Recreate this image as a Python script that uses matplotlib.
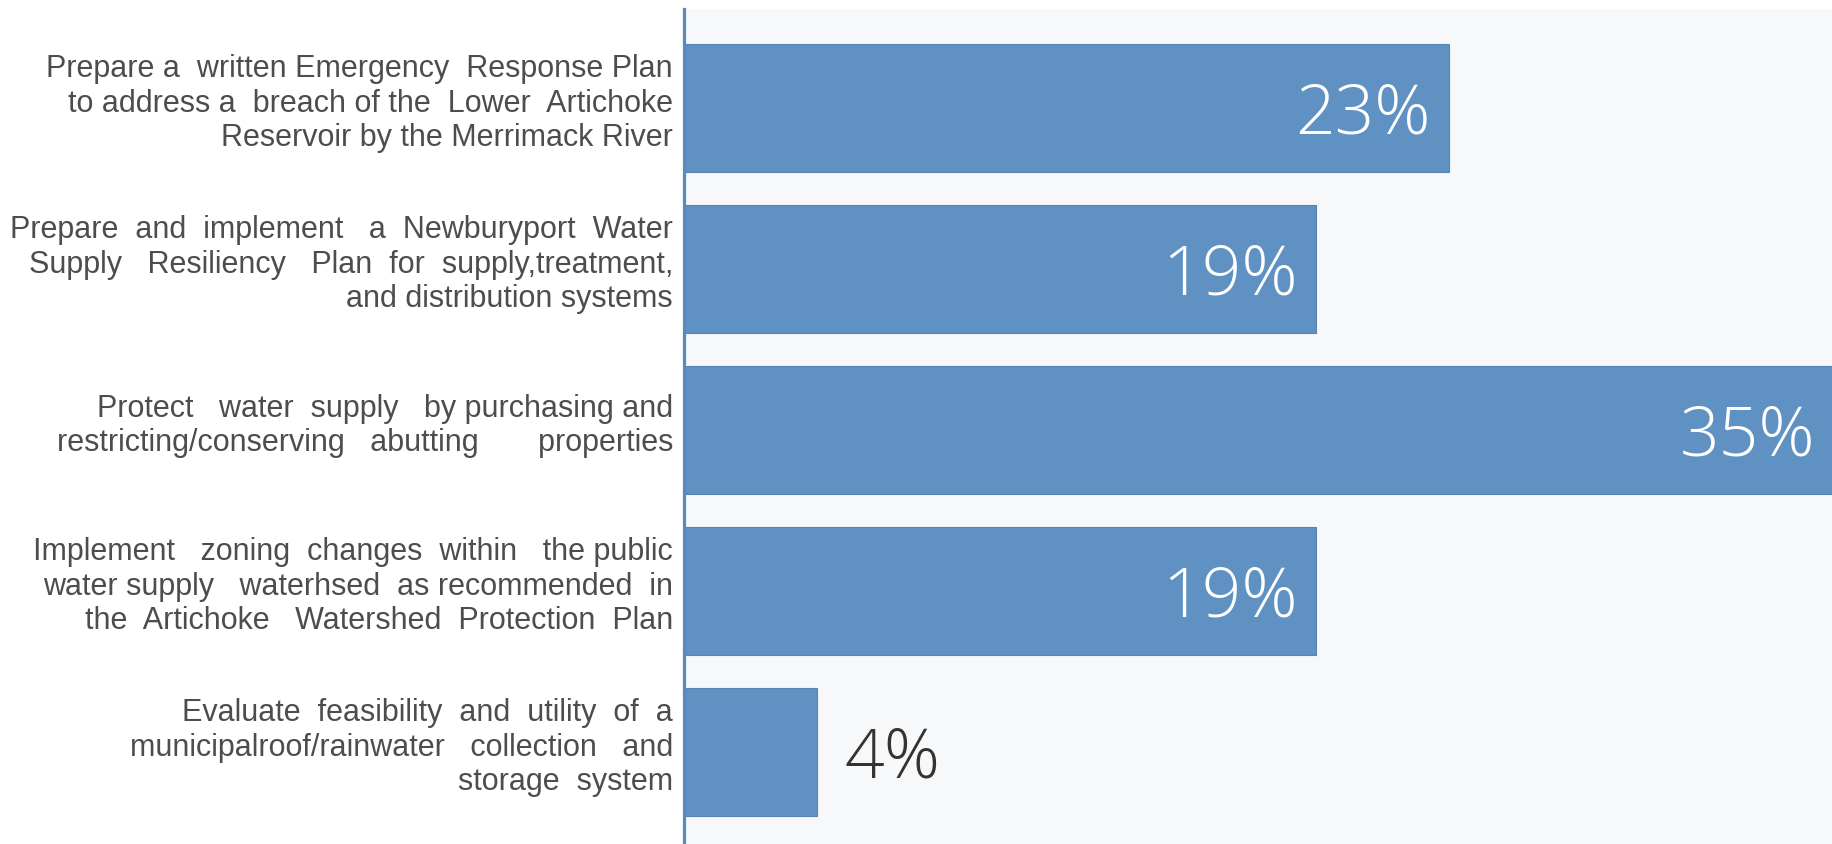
import matplotlib
matplotlib.use("Agg")
import matplotlib.pyplot as plt

# Survey results: share of respondents prioritising each water-supply action
actions = [
    "Prepare a  written Emergency  Response Plan\nto address a  breach of the  Lower  Artichoke\nReservoir by the Merrimack River",
    "Prepare  and  implement   a  Newburyport  Water\nSupply   Resiliency   Plan  for  supply,treatment,\nand distribution systems",
    "Protect   water  supply   by purchasing and\nrestricting/conserving   abutting       properties",
    "Implement   zoning  changes  within   the public\nwater supply   waterhsed  as recommended  in\nthe  Artichoke   Watershed  Protection  Plan",
    "Evaluate  feasibility  and  utility  of  a\nmunicipalroof/rainwater   collection   and\nstorage  system",
]
shares = [23, 19, 35, 19, 4]
share_labels = ["23%", "19%", "35%", "19%", "4%"]

BAR_COLOR = "#6091c3"
SPINE_COLOR = "#5a89bd"
PANEL_COLOR = "#f7f8fa"
TEXT_COLOR = "#4d4d4d"

W, H, DPI = 1833, 844, 100
fig = plt.figure(figsize=(W / DPI, H / DPI), dpi=DPI)
fig.patch.set_facecolor("white")

ax = fig.add_axes([684 / W, 0, 1 - 684 / W, (H - 9) / H])
ax.set_facecolor(PANEL_COLOR)

pos = list(range(len(actions)))
ax.barh(pos, shares, height=0.795, color=BAR_COLOR, edgecolor="#5784b2",
        linewidth=0.8, zorder=2)

x_max = 34.55
ax.set_xlim(0, x_max)
ax.set_ylim(4.571, -0.615)

for s in ["top", "right", "bottom"]:
    ax.spines[s].set_visible(False)
ax.spines["left"].set_color(SPINE_COLOR)
ax.spines["left"].set_linewidth(2.3)
ax.spines["left"].set_zorder(3)
ax.set_xticks([])
ax.set_yticks([])

# Category descriptions, right-aligned beside the axis
for p, txt in zip(pos, actions):
    ax.annotate(txt, xy=(0, p), xycoords=("axes fraction", "data"),
                xytext=(-8, 3), textcoords="offset points",
                ha="right", va="center", multialignment="right",
                fontsize=22, color=TEXT_COLOR, family="Liberation Sans",
                linespacing=1.2)

# Value labels: inside the bar when it is long enough, otherwise just after it
for p, v, lab in zip(pos, shares, share_labels):
    if v > 10:
        ax.annotate(lab, xy=(min(v, x_max), p), xycoords="data",
                    xytext=(-13, -18), textcoords="offset points",
                    ha="right", va="baseline", fontsize=50,
                    fontweight="light", family="Open Sans", color="white",
                    zorder=4)
    else:
        ax.annotate(lab, xy=(v, p), xycoords="data",
                    xytext=(20, -18), textcoords="offset points",
                    ha="left", va="baseline", fontsize=50,
                    fontweight="light", family="Open Sans", color="#333333",
                    zorder=4)

fig.savefig("out.png", dpi=DPI, facecolor=fig.get_facecolor())
